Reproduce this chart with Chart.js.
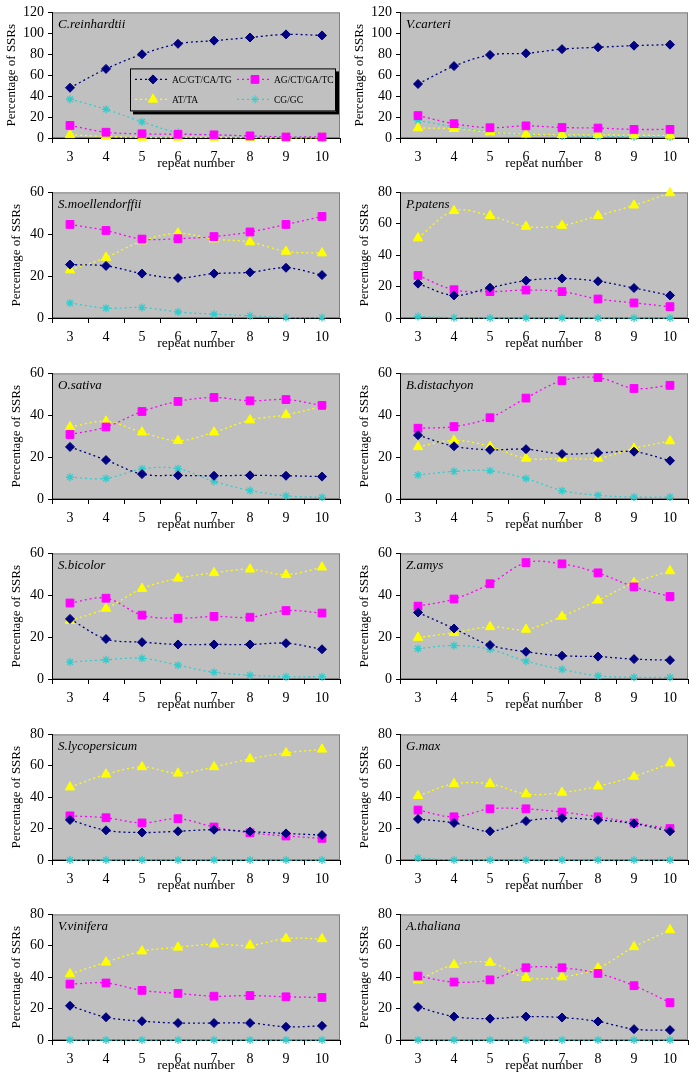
<!DOCTYPE html>
<html>
<head>
<meta charset="utf-8">
<script src="https://cdn.jsdelivr.net/npm/chart.js"></script>
<style>
    html, body { margin: 0; padding: 0; background: #fff; overflow: hidden; }
    #page { position: relative; width: 697px; height: 1075px; }
    .panel { position: absolute; }
</style>
</head>
<body>
<div id="page"></div>
<script>
// x axis categories
const repeatNumbers = ['3', '4', '5', '6', '7', '8', '9', '10'];
const motifs = ['AC/GT/CA/TG', 'AG/CT/GA/TC', 'AT/TA', 'CG/GC'];

const species = ['C.reinhardtii', 'V.carteri', 'S.moellendorffii', 'P.patens', 'O.sativa', 'B.distachyon',
    'S.bicolor', 'Z.amys', 'S.lycopersicum', 'G.max', 'V.vinifera', 'A.thaliana'];
const yMax = [120, 120, 60, 80, 60, 60, 60, 60, 80, 80, 80, 80];

// one row per species, same order as above
const acValues = [
    [48, 66, 80, 90, 93, 96, 99, 98],
    [51.6, 68.7, 79.4, 80.9, 84.9, 86.7, 88.2, 89.2],
    [25.5, 24.9, 21.2, 19.1, 21.2, 21.8, 24, 20.5],
    [21.9, 14.4, 19.3, 23.8, 25.2, 23.4, 19.1, 14.4],
    [24.9, 18.6, 11.9, 11.3, 11.1, 11.3, 11.1, 10.7],
    [30.5, 25.2, 23.5, 23.8, 21.5, 22, 22.6, 18.3],
    [28.7, 19.1, 17.6, 16.5, 16.5, 16.5, 17.1, 14.2],
    [31.8, 24.1, 16.2, 13, 11.1, 10.7, 9.5, 9],
    [25.5, 18.9, 17.5, 18.3, 19.3, 18.1, 16.9, 15.9],
    [26.1, 23.6, 18.3, 24.8, 26.7, 25.5, 23.2, 18.3],
    [21.8, 14.5, 12, 10.8, 10.8, 10.8, 8.4, 9],
    [21, 14.9, 13.6, 14.9, 14.3, 11.8, 6.9, 6.3]
];
const agValues = [
    [12, 5.5, 4, 3.5, 3, 2, 1, 1],
    [21.4, 13.7, 9.8, 11.6, 10, 9.5, 8.2, 8.2],
    [44.7, 41.8, 37.7, 37.9, 38.9, 41.1, 44.7, 48.5],
    [27.1, 18, 16.8, 17.8, 16.8, 12.1, 9.6, 7.2],
    [30.8, 34.4, 41.8, 46.6, 48.5, 46.9, 47.5, 44.7],
    [33.8, 34.6, 38.8, 48.2, 56.5, 58, 52.8, 54.3],
    [36.3, 38.6, 30.5, 29, 29.9, 29.5, 32.7, 31.5],
    [34.8, 38.2, 45.5, 55.6, 55, 50.7, 44, 39.4],
    [28.1, 26.9, 23.6, 26.3, 21, 17.3, 15.3, 13.8],
    [31.8, 27.5, 32.6, 32.6, 30.5, 27.5, 23.6, 20],
    [35.6, 36.3, 31.6, 29.7, 27.9, 28.3, 27.5, 27.1],
    [40.7, 36.9, 38.3, 46, 46, 42.4, 34.6, 23.8]
];
const atValues = [
    [3, 1.5, 0.5, 0.5, 0.5, 0.3, 0.2, 0.2],
    [9.5, 8.9, 5.5, 3.7, 3, 3, 2.7, 2.5],
    [22.9, 28.9, 36.8, 40.5, 37.7, 36.3, 31.8, 31],
    [50.9, 68.3, 65.2, 58.3, 58.9, 65.2, 71.8, 79.6],
    [34.4, 37.1, 31.9, 27.9, 31.9, 37.7, 40.2, 44.1],
    [24.9, 28, 25.1, 19.4, 19.4, 19.4, 24.2, 27.7],
    [27.9, 33.7, 43.2, 48.1, 50.7, 52.4, 49.8, 53.4],
    [19.8, 22.1, 24.9, 23.7, 29.9, 37.6, 46, 51.6],
    [46.4, 54.6, 59.3, 55.2, 59.3, 64.4, 68.2, 70.5],
    [40.9, 48.5, 48.5, 42, 43, 47, 53.2, 61.7],
    [42, 49.5, 56.6, 59, 61.1, 60.3, 64.6, 64.4],
    [38.1, 47.9, 49.3, 39.7, 40.1, 45.8, 59.3, 70.1]
];
const cgValues = [
    [37, 27.4, 15.5, 5.2, 3, 2, 1, 0.5],
    [16.8, 10.7, 5.5, 3.4, 2, 1.5, 1.2, 1],
    [7.2, 4.7, 5, 2.9, 1.8, 1.1, 0.2, 0.2],
    [1, 0.2, 0, 0, 0, 0, 0, 0],
    [10.4, 9.8, 14.4, 14.5, 8.4, 4.1, 1.5, 0.8],
    [11.5, 13.2, 13.5, 9.8, 4, 1.8, 0.9, 0.9],
    [8.1, 9.2, 9.9, 6.6, 3.2, 1.8, 1.1, 1.1],
    [14.5, 16, 14.2, 8.5, 4.6, 1.5, 0.8, 0.8],
    [0, 0, 0, 0, 0, 0, 0, 0],
    [1.2, 0, 0, 0, 0, 0, 0, 0],
    [0, 0, 0, 0, 0, 0, 0, 0],
    [0, 0, 0, 0, 0, 0, 0, 0]
];

const motifColors = ['#000080', '#FF00FF', '#FFFF00', '#33CCCC'];
const motifPoints = ['rectRot', 'rect', 'triangle', 'star'];
const motifRadius = [4.5, 5.5, 5.5, 4];

const serif = 'Liberation Serif, Times New Roman, serif';

// grey plot area like the excel charts
const plotBg = {
    id: 'plotBg',
    beforeDraw: function (chart) {
        const ctx = chart.ctx, a = chart.chartArea;
        ctx.save();
        ctx.fillStyle = '#C0C0C0';
        ctx.fillRect(a.left, a.top, a.width, a.height);
        ctx.strokeStyle = '#808080';
        ctx.lineWidth = 1;
        ctx.strokeRect(a.left + 0.5, a.top + 0.5, a.width - 1, a.height - 1);
        ctx.restore();
    }
};

// species name in the top left corner
const speciesLabel = {
    id: 'speciesLabel',
    afterDatasetsDraw: function (chart, args, opts) {
        const ctx = chart.ctx, a = chart.chartArea;
        ctx.save();
        ctx.font = 'italic 13px ' + serif;
        ctx.fillStyle = '#000';
        ctx.textBaseline = 'middle';
        ctx.fillText(opts.text, a.left + 6, a.top + 12);
        ctx.restore();
    }
};

// boxed legend with a shadow, only for the first panel
const boxLegend = {
    id: 'boxLegend',
    afterDraw: function (chart, args, opts) {
        if (!opts.show) return;
        const ctx = chart.ctx, a = chart.chartArea;
        const bx = a.left + 78, by = a.top + 56, bw = 206, bh = 43;
        ctx.save();
        ctx.fillStyle = '#000';
        ctx.fillRect(bx + 3, by + 3, bw, bh);
        ctx.fillStyle = '#C0C0C0';
        ctx.fillRect(bx, by, bw, bh);
        ctx.strokeStyle = '#000';
        ctx.lineWidth = 1;
        ctx.strokeRect(bx + 0.5, by + 0.5, bw - 1, bh - 1);

        chart.data.datasets.forEach(function (ds, i) {
            const col = i % 2, row = Math.floor(i / 2);
            const x0 = bx + (col === 0 ? 5 : 107);
            const y = by + (row === 0 ? 11 : 31);
            ctx.strokeStyle = ds.borderColor;
            ctx.lineWidth = 1.3;
            ctx.setLineDash([2, 3]);
            ctx.beginPath();
            ctx.moveTo(x0, y);
            ctx.lineTo(x0 + 33, y);
            ctx.stroke();
            ctx.setLineDash([]);
            ctx.fillStyle = ds.pointBackgroundColor;
            ctx.strokeStyle = ds.pointBorderColor;
            ctx.lineWidth = 1;
            Chart.helpers.drawPoint(ctx, { pointStyle: ds.pointStyle, radius: ds.pointRadius, rotation: 0, borderWidth: 1 }, x0 + 18, y);
            ctx.fillStyle = '#000';
            ctx.font = '9.5px ' + serif;
            ctx.textBaseline = 'middle';
            ctx.fillText(ds.label, x0 + 37, y + 1);
        });
        ctx.restore();
    }
};

function makePanel(idx) {
    const col = idx % 2, row = Math.floor(idx / 2);
    const w = col === 0 ? 348 : 349;
    const canvas = document.createElement('canvas');
    canvas.className = 'panel';
    canvas.width = w;
    canvas.height = 180;
    canvas.style.left = (col * 348) + 'px';
    canvas.style.top = Math.round(row * 180.4) + 'px';
    document.getElementById('page').appendChild(canvas);

    const seriesRows = [acValues, agValues, atValues, cgValues];
    const datasets = motifs.map(function (name, m) {
        return {
            label: name,
            data: seriesRows[m][idx],
            borderColor: motifColors[m],
            borderWidth: 1.3,
            borderDash: [2, 3],
            pointStyle: motifPoints[m],
            pointRadius: motifRadius[m],
            pointBackgroundColor: motifColors[m],
            pointBorderColor: motifColors[m],
            pointBorderWidth: m === 3 ? 1.3 : 1,
            tension: 0.35,
            clip: false,
            fill: false
        };
    });

    new Chart(canvas.getContext('2d'), {
        type: 'line',
        data: { labels: repeatNumbers, datasets: datasets },
        plugins: [plotBg, speciesLabel, boxLegend],
        options: {
            responsive: false,
            animation: false,
            devicePixelRatio: 1,
            layout: { padding: { top: 6, right: w - 340, bottom: 0, left: 0 } },
            plugins: {
                legend: { display: false },
                tooltip: { enabled: false },
                speciesLabel: { text: species[idx] },
                boxLegend: { show: idx === 0 }
            },
            scales: {
                x: {
                    offset: true,
                    afterFit: function (scale) { scale.height = 42; },
                    grid: { offset: true, drawOnChartArea: false, drawTicks: true, tickLength: 5, color: '#000' },
                    border: { color: '#000', width: 1 },
                    ticks: { color: '#000', font: { family: serif, size: 14 }, padding: 6, maxRotation: 0 },
                    title: {
                        display: true, text: 'repeat number', color: '#000',
                        font: { family: serif, size: 13.5 }, padding: { top: 0, bottom: 8 }
                    }
                },
                y: {
                    min: 0,
                    max: yMax[idx],
                    afterFit: function (scale) { scale.width = 52; },
                    grid: { drawOnChartArea: false, drawTicks: true, tickLength: 4, color: '#000' },
                    border: { color: '#000', width: 1 },
                    ticks: { stepSize: 20, color: '#000', font: { family: serif, size: 14 }, padding: 4 },
                    title: {
                        display: true, text: 'Percentage of SSRs', color: '#000',
                        font: { family: serif, size: 13 }, padding: { top: yMax[idx] >= 100 ? 4 : 9, bottom: 0 }
                    }
                }
            }
        }
    });
}

for (let i = 0; i < species.length; i++) {
    makePanel(i);
}
</script>
</body>
</html>
